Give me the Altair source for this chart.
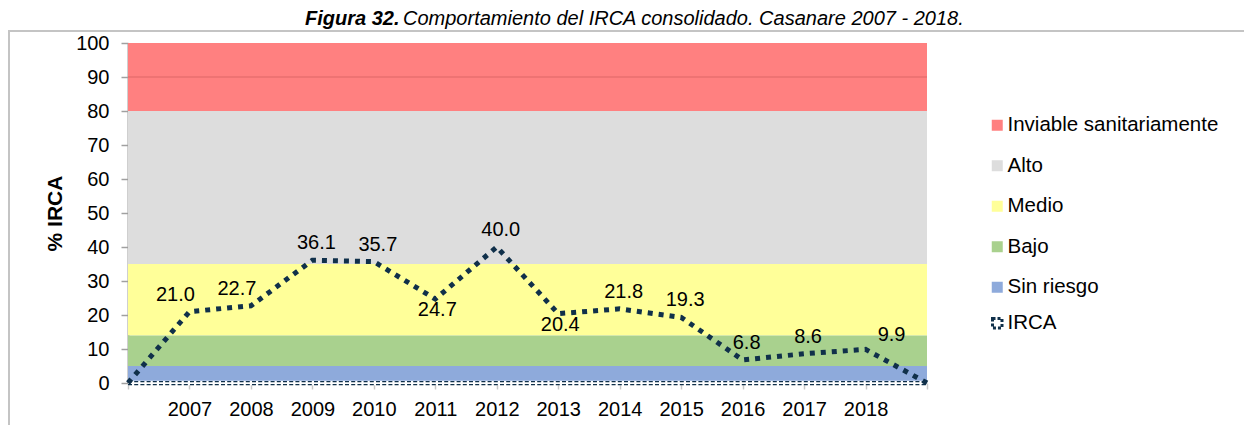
import altair as alt
import pandas as pd

# ---------------- data ----------------
anios = ["2007", "2008", "2009", "2010", "2011", "2012",
         "2013", "2014", "2015", "2016", "2017", "2018"]
irca = [21.0, 22.7, 36.1, 35.7, 24.7, 40.0, 20.4, 21.8, 19.3, 6.8, 8.6, 9.9]
# the series starts and ends at 0 on the unlabeled edge positions
extremos = ["ini", "fin"]
valor_extremos = [0, 0]

niveles = ["Inviable sanitariamente", "Alto", "Medio", "Bajo", "Sin riesgo"]
lim_inf = [80, 35, 14, 5, 0]
lim_sup = [100, 80, 35, 14, 5]
colores = ["#ff8080", "#dddddd", "#ffff99", "#a9d18e", "#8eaadb"]

titulo = ["Figura 32.", "Comportamiento del IRCA consolidado. Casanare 2007 - 2018."]

etiq_abajo = ["2011", "2013"]
etiq_izq = ["2007", "2008"]
etiq_der = ["2018"]

# ---------------- build tables ----------------
cats = [extremos[0]] + anios + [extremos[1]]
vals = [valor_extremos[0]] + irca + [valor_extremos[1]]
df_line = pd.DataFrame({"anio": cats, "irca": vals, "serie": "IRCA"})
df_lab = pd.DataFrame({"anio": anios, "irca": irca})
df_bands = pd.DataFrame({"nivel": niveles, "inf": lim_inf, "sup": lim_sup})

W, H = 799, 340
NAVY = "#10304a"
FONT = "Liberation Sans"

yscale = alt.Scale(domain=[0, 100], nice=False)
xscale = alt.Scale(domain=cats, type="point", padding=0)
xaxis = alt.Axis(labelExpr="datum.value == 'ini' || datum.value == 'fin' ? '' : datum.value",
                 title=None)
YT = "% IRCA"

one = pd.DataFrame({"k": [0]})

# frame
frame_top = alt.Chart(one).mark_rule(color="#c4c4c4", strokeWidth=2).encode(
    x=alt.value(-119), x2=alt.value(W + 330), y=alt.value(-12))
frame_left = alt.Chart(one).mark_rule(color="#c4c4c4", strokeWidth=2).encode(
    x=alt.value(-119), y=alt.value(-13), y2=alt.value(H + 50))

bands = alt.Chart(df_bands).mark_rect().encode(
    y=alt.Y("inf:Q", scale=yscale, title=YT),
    y2="sup:Q",
    x=alt.value(0), x2=alt.value(W),
    fill=alt.Fill("nivel:N", scale=alt.Scale(domain=niveles, range=colores),
                  legend=alt.Legend(orient="none", legendX=859, legendY=72, title=None,
                                    symbolType="square", symbolSize=121, symbolStrokeWidth=0,
                                    rowPadding=19.5, labelOffset=0, padding=0)),
)

grid90 = alt.Chart(pd.DataFrame({"g": [90]})).mark_rule(color="#e86f6f", strokeWidth=1.5).encode(
    y=alt.Y("g:Q", scale=yscale, title=YT), x=alt.value(0), x2=alt.value(W))

zero = pd.DataFrame({"z": [0]})
strip = alt.Chart(zero).mark_rule(color="white", strokeWidth=4.5).encode(
    y=alt.Y("z:Q", scale=yscale, title=YT), x=alt.value(0), x2=alt.value(W))
dash1 = alt.Chart(zero).mark_rule(color=NAVY, strokeWidth=1.2, strokeDash=[4, 2.2], yOffset=-1.3).encode(
    y=alt.Y("z:Q", scale=yscale, title=YT), x=alt.value(0), x2=alt.value(W))
dash2 = alt.Chart(zero).mark_rule(color=NAVY, strokeWidth=1.2, strokeDash=[4, 2.2], yOffset=1.7).encode(
    y=alt.Y("z:Q", scale=yscale, title=YT), x=alt.value(0), x2=alt.value(W))

line = alt.Chart(df_line).mark_line(strokeWidth=5, strokeDash=[5, 6], strokeCap="butt",
                                    interpolate="linear").encode(
    x=alt.X("anio:N", scale=xscale, axis=xaxis),
    y=alt.Y("irca:Q", scale=yscale, title=YT),
    stroke=alt.Stroke("serie:N", scale=alt.Scale(domain=["IRCA"], range=[NAVY]),
                      legend=alt.Legend(orient="none", legendX=859, legendY=270, title=None,
                                        symbolType="square", symbolSize=90,
                                        symbolFillColor="white", symbolStrokeWidth=3,
                                        symbolDash=[3, 2], labelOffset=0, padding=0)),
)


def labels(pred, dx, dy):
    return alt.Chart(df_lab).transform_filter(pred).mark_text(
        font=FONT, fontSize=20, color="#000000", dx=dx, dy=dy, baseline="middle").encode(
        x=alt.X("anio:N", scale=xscale, axis=xaxis),
        y=alt.Y("irca:Q", scale=yscale, title=YT),
        text=alt.Text("irca:Q", format=".1f"),
    )


especiales = etiq_abajo + etiq_izq + etiq_der
lab_above = labels(~alt.FieldOneOfPredicate(field="anio", oneOf=especiales), 4, -17)
lab_below = labels(alt.FieldOneOfPredicate(field="anio", oneOf=etiq_abajo), 2, 11)
lab_left = labels(alt.FieldOneOfPredicate(field="anio", oneOf=etiq_izq), -14, -17)
lab_right = labels(alt.FieldOneOfPredicate(field="anio", oneOf=etiq_der), 26, -14)

t1 = alt.Chart(pd.DataFrame({"t": [titulo[0]]})).mark_text(
    font=FONT, fontSize=20, fontStyle="italic", fontWeight="bold", align="left",
    baseline="alphabetic", color="#000000").encode(
    x=alt.value(177), y=alt.value(-18), text="t:N")
t2 = alt.Chart(pd.DataFrame({"t": [titulo[1]]})).mark_text(
    font=FONT, fontSize=20, fontStyle="italic", align="left",
    baseline="alphabetic", color="#000000").encode(
    x=alt.value(177 + 98), y=alt.value(-18), text="t:N")

chart = alt.layer(
    frame_top, frame_left, bands, grid90, strip, dash1, dash2, line,
    lab_above, lab_below, lab_left, lab_right, t1, t2
).properties(
    width=W, height=H,
    padding={"left": 120, "top": 35, "right": 317, "bottom": 42},
    autosize=alt.AutoSizeParams(type="none"),
).configure_view(stroke=None).configure_axisY(
    domainColor="#a0a0a0", domainWidth=2, tickColor="#a0a0a0", tickWidth=1.5, tickSize=7,
    labelFont=FONT, labelFontSize=20, labelColor="#000000", labelPadding=12,
    grid=False, titleFont=FONT, titleFontSize=21, titleFontWeight="bold", titleColor="#000000",
    titlePadding=10, tickCount=10, zindex=1,
).configure_axisX(
    domain=False, tickColor="#c8c8c8", tickWidth=1.5, tickSize=6,
    labelFont=FONT, labelFontSize=20, labelColor="#000000", labelPadding=10,
    grid=False, labelAngle=0, zindex=1,
).configure_legend(
    labelFont=FONT, labelFontSize=20.5, labelColor="#000000", labelLimit=400,
)

chart.save("out.html", embed_options={"renderer": "svg", "actions": False})
